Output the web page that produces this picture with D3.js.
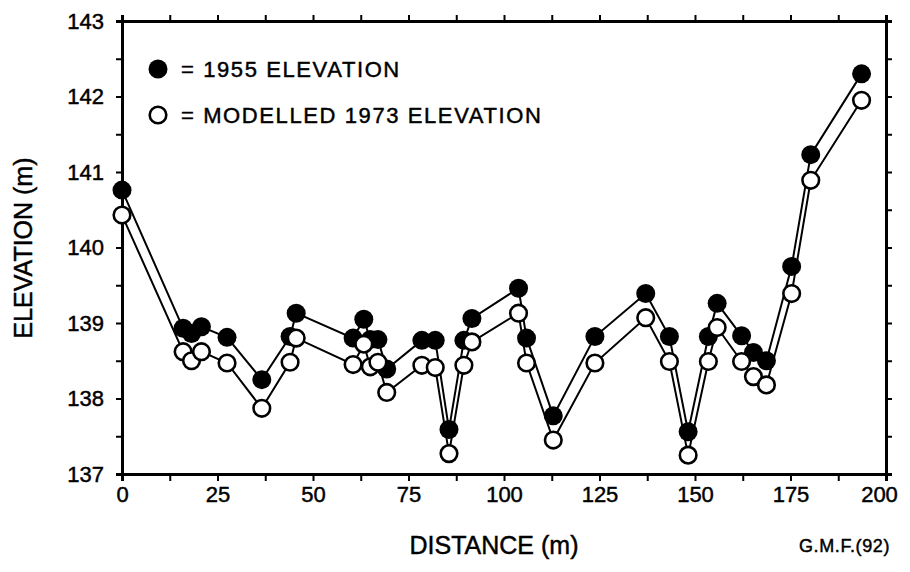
<!DOCTYPE html>
<html>
<head>
<meta charset="utf-8">
<script src="https://cdn.jsdelivr.net/npm/d3@7"></script>
<style>
  body { margin: 0; background: #fff; }
  svg { display: block; font-family: "Liberation Sans", Arial, Helvetica, sans-serif; }
  svg text { stroke: #000; stroke-width: 0.45px; }
  .axis path.domain { stroke: #000; stroke-width: 3; }
  .axis line { stroke: #000; stroke-width: 2; }
  .axis text { font-size: 22px; fill: #000; font-family: "Liberation Sans", Arial, Helvetica, sans-serif; }
</style>
</head>
<body>
<svg id="chart" width="910" height="572"></svg>
<script>
// distance along profile (m)
var distance = [0, 16, 18.2, 20.8, 27.5, 36.6, 44, 45.6, 60.5, 63.3, 65, 67, 69.3, 78.5, 82, 85.6,
  89.5, 91.6, 103.8, 105.9, 112.9, 123.8, 137.1, 143.3, 148.2, 153.5, 155.8, 162.2, 165.3, 168.7,
  175.3, 180.3, 193.6];
// 1955 elevation (m)
var elev1955 = [140.76, 138.93, 138.86, 138.95, 138.81, 138.25, 138.82, 139.13, 138.80, 139.05, 138.78,
  138.78, 138.39, 138.77, 138.77, 137.59, 138.77, 139.06, 139.46, 138.80, 137.77, 138.82, 139.39,
  138.82, 137.56, 138.82, 139.26, 138.83, 138.61, 138.50, 139.75, 141.23, 142.30];
// modelled 1973 elevation (m)
var model1973 = [140.43, 138.62, 138.50, 138.62, 138.47, 137.87, 138.48, 138.80, 138.45, 138.72, 138.42,
  138.48, 138.08, 138.44, 138.41, 137.27, 138.44, 138.75, 139.13, 138.47, 137.45, 138.47, 139.07,
  138.49, 137.25, 138.49, 138.94, 138.49, 138.29, 138.18, 139.39, 140.89, 141.95];

var xTicks = d3.range(0, 200.1, 12.5);
var yTicks = d3.range(137, 143.01, 0.5);
var legendLabels = ["= 1955 ELEVATION", "= MODELLED 1973 ELEVATION"];

var svg = d3.select("#chart");
var mLeft = 122, mRight = 886, mTop = 21, mBottom = 474;

var x = d3.scaleLinear().domain([0, 200]).range([mLeft, mRight]);
var y = d3.scaleLinear().domain([137, 143]).range([mBottom, mTop]);

// axes
var xAxis = svg.append("g").attr("class", "axis")
  .attr("transform", "translate(0," + mBottom + ")")
  .call(d3.axisBottom(x).tickValues(xTicks).tickSizeOuter(0).tickSize(7).tickPadding(5)
    .tickFormat(function(d) { return d % 25 === 0 ? d : ""; }));
// last label sits a little left of its tick, as in the original
xAxis.selectAll(".tick text").filter(function(d) { return d === 200; }).attr("dx", -7);

svg.append("g").attr("class", "axis")
  .attr("transform", "translate(0," + mTop + ")")
  .call(d3.axisTop(x).tickValues(xTicks).tickSizeOuter(0).tickSize(6).tickFormat(""));

svg.append("g").attr("class", "axis")
  .attr("transform", "translate(" + mLeft + ",0)")
  .call(d3.axisLeft(y).tickValues(yTicks).tickSizeOuter(0).tickSize(6).tickPadding(12)
    .tickFormat(function(d) { return d % 1 === 0 ? d : ""; }));

svg.append("g").attr("class", "axis")
  .attr("transform", "translate(" + mRight + ",0)")
  .call(d3.axisRight(y).tickValues(yTicks).tickSizeOuter(0).tickSize(6).tickFormat(""));

// lines
var pts1955 = distance.map(function(d, i) { return [d, elev1955[i]]; });
var pts1973 = distance.map(function(d, i) { return [d, model1973[i]]; });
var line = d3.line().x(function(d) { return x(d[0]); }).y(function(d) { return y(d[1]); });

svg.append("path").datum(pts1955).attr("d", line)
  .attr("fill", "none").attr("stroke", "#000").attr("stroke-width", 2);
svg.append("path").datum(pts1973).attr("d", line)
  .attr("fill", "none").attr("stroke", "#000").attr("stroke-width", 2);

// markers
svg.append("g").selectAll("circle").data(pts1955).enter().append("circle")
  .attr("cx", function(d) { return x(d[0]); })
  .attr("cy", function(d) { return y(d[1]); })
  .attr("r", 9.5).attr("fill", "#000");

svg.append("g").selectAll("circle").data(pts1973).enter().append("circle")
  .attr("cx", function(d) { return x(d[0]); })
  .attr("cy", function(d) { return y(d[1]); })
  .attr("r", 8.3).attr("fill", "#fff").attr("stroke", "#000").attr("stroke-width", 2.6);

// legend
var leg = svg.append("g");
leg.append("circle").attr("cx", 158).attr("cy", 69).attr("r", 9.5).attr("fill", "#000");
leg.append("circle").attr("cx", 158).attr("cy", 115).attr("r", 8.3)
  .attr("fill", "#fff").attr("stroke", "#000").attr("stroke-width", 2.6);
leg.selectAll("text").data(legendLabels).enter().append("text")
  .attr("x", 181).attr("y", function(d, i) { return 77 + i * 46; })
  .attr("font-size", "22px").attr("letter-spacing", "1.6px")
  .text(function(d) { return d; });

// axis titles
svg.append("text").attr("x", 494).attr("y", 554).attr("text-anchor", "middle")
  .attr("font-size", "25px").text("DISTANCE (m)");

svg.append("text").attr("transform", "translate(32,248) rotate(-90)").attr("text-anchor", "middle")
  .attr("font-size", "25px").text("ELEVATION (m)");

svg.append("text").attr("x", 890).attr("y", 552).attr("text-anchor", "end")
  .attr("font-size", "18px").attr("letter-spacing", "0.6px").text("G.M.F.(92)");
</script>
</body>
</html>
